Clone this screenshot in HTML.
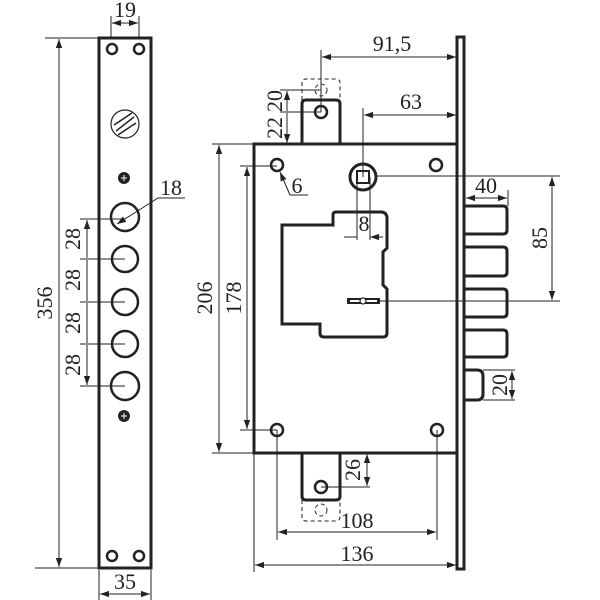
<!DOCTYPE html>
<html><head><meta charset="utf-8"><style>
html,body{margin:0;padding:0;background:#fff;}
svg{display:block;}
text{font-family:"Liberation Serif","Times New Roman",serif;font-size:22px;fill:#222;}
</style></head><body>
<svg width="600" height="600" viewBox="0 0 600 600" xmlns="http://www.w3.org/2000/svg">
<defs>
<marker id="a" viewBox="0 0 10 10" refX="10" refY="5" markerWidth="9" markerHeight="9" orient="auto-start-reverse" markerUnits="userSpaceOnUse"><path d="M0,1.5 L10,5 L0,8.5 Z" fill="#222"/></marker>
</defs>
<g stroke="#222" fill="none">
<rect x="99" y="38" width="52" height="530" stroke-width="3"/>
<g stroke-width="2.5">
<circle cx="112" cy="49" r="5"/><circle cx="139" cy="49" r="5"/>
<circle cx="112" cy="556" r="5"/><circle cx="139" cy="556" r="5"/>
<circle cx="125" cy="217" r="14"/><circle cx="125" cy="259" r="13"/>
<circle cx="125" cy="302" r="13"/><circle cx="125" cy="344" r="13"/>
<circle cx="125" cy="386" r="14"/>
</g>
<circle cx="124" cy="178" r="6" fill="#222" stroke="none"/>
<circle cx="124" cy="416" r="6" fill="#222" stroke="none"/>
<path d="M121,178h6M124,175v6M121,416h6M124,413v6" stroke="#fff" stroke-width="1"/>
<circle cx="125" cy="124" r="14" stroke-width="1.2"/>
<path d="M116,131 L134,117 M114,125 L132,113 M118,135 L136,123" stroke-width="1.5"/>
<g stroke-width="1">
<path d="M111,38V16M139,38V16"/>
<path d="M112,23H138" marker-start="url(#a)" marker-end="url(#a)"/>
<path d="M45,38H99M35,568H99"/>
<path d="M59,39V567" marker-start="url(#a)" marker-end="url(#a)"/>
<path d="M99,570V600M151,570V600"/>
<path d="M100,594H150" marker-start="url(#a)" marker-end="url(#a)"/>
<path d="M80,219H125M80,259H125M80,302H125M80,344H125M80,386H125"/>
<path d="M87,220V258M87,260V301M87,303V343M87,345V385" marker-start="url(#a)" marker-end="url(#a)"/>
<path d="M158,198H185"/>
<path d="M158,198L117,224" marker-end="url(#a)"/>
</g>
<rect x="254" y="144" width="203" height="309" stroke-width="3"/>
<rect x="457" y="37" width="7" height="532" stroke-width="3"/>
<path d="M302,144V104q0-4 4-4h30q4,0 4,4V144" stroke-width="3"/>
<path d="M302,453V496q0,4 4,4h30q4,0 4-4V453" stroke-width="3"/>
<g stroke-width="1" stroke-dasharray="4,3">
<path d="M302,100V83q0-4 4-4h30q4,0 4,4V100"/>
<circle cx="321" cy="90" r="6"/>
<path d="M302,500V517q0,4 4,4h30q4,0 4-4V500"/>
<circle cx="321" cy="510" r="6"/>
</g>
<g stroke-width="2.5">
<circle cx="321" cy="112" r="6"/><circle cx="321" cy="487" r="6"/>
<circle cx="277" cy="165" r="6"/><circle cx="436" cy="165" r="6"/>
<circle cx="277" cy="430" r="6"/><circle cx="437" cy="430" r="6"/>
</g>
<circle cx="363" cy="177" r="13" stroke-width="3"/>
<rect x="357" y="171" width="12" height="12" stroke-width="2"/>
<path d="M282,225H333V215q0-3 3-3H381q5,0 6,5V248L383,252V285L387,289V333q0,4-4,4H324q-4,0-4-4V324H282Z" stroke-width="3"/>
<rect x="347" y="298" width="33" height="6" fill="#222" stroke="none"/>
<rect x="350" y="300" width="27" height="2" fill="#fff" stroke="none"/>
<circle cx="363" cy="301" r="3" fill="#fff" stroke-width="1.2"/>
<g stroke-width="3">
<path d="M465,206H503q4,0 4,4V230q0,4-4,4H465"/>
<path d="M465,247H503q4,0 4,4V272q0,4-4,4H465"/>
<path d="M465,289H503q4,0 4,4V313q0,4-4,4H465"/>
<path d="M465,330H503q4,0 4,4V353q0,4-4,4H465"/>
<path d="M465,370H477q6,0 6,6V394q0,6-6,6H465"/>
</g>
<g stroke-width="1">
<path d="M321,50V112"/>
<path d="M322,57H456" marker-start="url(#a)" marker-end="url(#a)"/>
<path d="M363,108V177"/>
<path d="M364,115H456" marker-start="url(#a)" marker-end="url(#a)"/>
<path d="M280,90H321M280,112H321"/>
<path d="M287,91V111M287,113V143" marker-start="url(#a)" marker-end="url(#a)"/>
<path d="M212,144H254M212,453H254"/>
<path d="M219,145V452" marker-start="url(#a)" marker-end="url(#a)"/>
<path d="M240,166H277M240,430H277"/>
<path d="M247,167V429" marker-start="url(#a)" marker-end="url(#a)"/>
<path d="M290,195H308"/>
<path d="M290,195L280,172" marker-end="url(#a)"/>
<path d="M357,177V240M370,177V240"/>
<path d="M344,237H357M383,237H370" marker-end="url(#a)"/>
<path d="M508,190V206"/>
<path d="M466,198H507" marker-start="url(#a)" marker-end="url(#a)"/>
<path d="M376,176H560M380,301H560"/>
<path d="M552,177V300" marker-start="url(#a)" marker-end="url(#a)"/>
<path d="M483,370H515M483,400H515"/>
<path d="M512,371V399" marker-start="url(#a)" marker-end="url(#a)"/>
<path d="M321,487H370"/>
<path d="M367,454V486" marker-start="url(#a)" marker-end="url(#a)"/>
<path d="M277,430V540M437,430V540"/>
<path d="M278,532H436" marker-start="url(#a)" marker-end="url(#a)"/>
<path d="M254,453V572"/>
<path d="M255,565H456" marker-start="url(#a)" marker-end="url(#a)"/>
</g>
</g>
<g font-family="Liberation Serif, serif" font-size="22">
<text x="125" y="17" text-anchor="middle">19</text>
<text x="125" y="589" text-anchor="middle">35</text>
<text x="171" y="195" text-anchor="middle">18</text>
<text transform="translate(52,303) rotate(-90)" text-anchor="middle">356</text>
<text transform="translate(80,239) rotate(-90)" text-anchor="middle">28</text>
<text transform="translate(80,280) rotate(-90)" text-anchor="middle">28</text>
<text transform="translate(80,323) rotate(-90)" text-anchor="middle">28</text>
<text transform="translate(80,365) rotate(-90)" text-anchor="middle">28</text>
<text x="392" y="51" text-anchor="middle">91,5</text>
<text x="411" y="109" text-anchor="middle">63</text>
<text transform="translate(282,101) rotate(-90)" text-anchor="middle">20</text>
<text transform="translate(282,128) rotate(-90)" text-anchor="middle">22</text>
<text transform="translate(212,298) rotate(-90)" text-anchor="middle">206</text>
<text transform="translate(241,298) rotate(-90)" text-anchor="middle">178</text>
<text x="297" y="193" text-anchor="middle">6</text>
<text x="364" y="231" text-anchor="middle">8</text>
<text x="486" y="193" text-anchor="middle">40</text>
<text transform="translate(547,238) rotate(-90)" text-anchor="middle">85</text>
<text transform="translate(507,385) rotate(-90)" text-anchor="middle">20</text>
<text transform="translate(360,470) rotate(-90)" text-anchor="middle">26</text>
<text x="357" y="528" text-anchor="middle">108</text>
<text x="357" y="561" text-anchor="middle">136</text>
</g>
</svg>
</body></html>
